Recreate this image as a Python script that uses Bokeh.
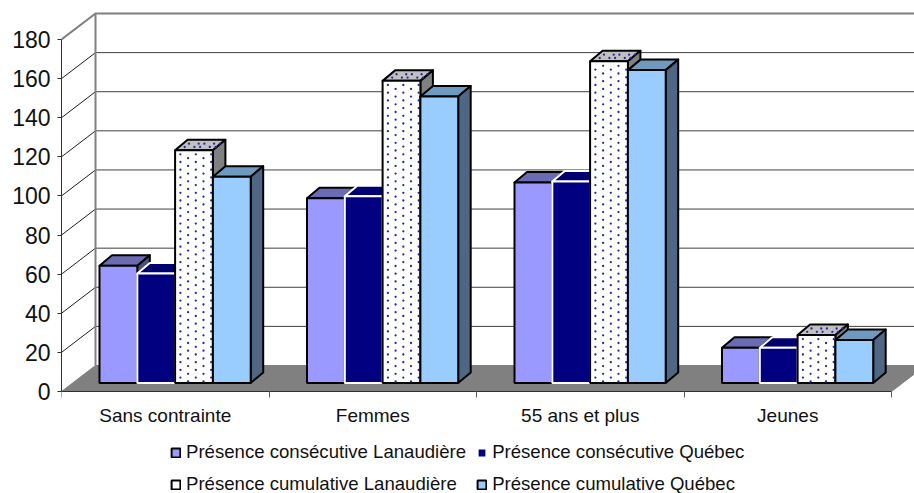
from bokeh.embed import file_html
from bokeh.resources import INLINE
from bokeh.plotting import figure
from bokeh.models import Range1d, FixedTicker, Legend, LegendItem

categories = ["Sans contrainte", "Femmes", "55 ans et plus", "Jeunes"]
y_ticks = [0, 20, 40, 60, 80, 100, 120, 140, 160, 180]
conso_lanaudiere = [60, 94.5, 102.5, 18]
conso_quebec = [56, 95.5, 103, 18]
cumul_lanaudiere = [119, 154.5, 164.5, 24.5]
cumul_quebec = [105.5, 146.5, 160, 22]
series_names = ["Présence consécutive Lanaudière", "Présence consécutive Québec",
                "Présence cumulative Lanaudière", "Présence cumulative Québec"]
series_values = [conso_lanaudiere, conso_quebec, cumul_lanaudiere, cumul_quebec]
front_colors = ["#9999FF", "#000080", "#FFFFFF", "#99CCFF"]
top_colors = ["#6B6BB3", "#000070", "#C0C0C0", "#6F9ABF"]
side_colors = ["#4D4D80", "#000050", "#808080", "#4F6685"]
edge_colors = ["#000000", "#FFFFFF", "#000000", "#000000"]

PX_X = 207.5      # pixels per category
PX_Y = 352 / 180  # pixels per value unit
WALL_DX, WALL_DY = 34 / PX_X, 26 / PX_Y
BAR_DX, BAR_DY = 12.5 / PX_X, 10.5 / PX_Y
BAR_W = 37.8 / PX_X
BASE = 8.5 / PX_Y

p = figure(width=914, height=493, output_backend="svg", toolbar_location=None,
           x_range=Range1d(0, 853 / PX_X), y_range=Range1d(-102 / PX_Y, 391 / PX_Y),
           min_border_left=61, min_border_right=0, min_border_top=0, min_border_bottom=0,
           outline_line_color=None, background_fill_color="white")
p.grid.visible = False

# y axis
ya = p.yaxis[0]
ya.ticker = FixedTicker(ticks=y_ticks, minor_ticks=[])
ya.bounds = (0, 180)
ya.axis_line_color = "#303030"
ya.major_tick_line_color = "#303030"
ya.major_tick_out = 4
ya.major_tick_in = 0
ya.major_label_standoff = 7
ya.major_label_text_font = "Liberation Sans"
ya.major_label_text_font_size = "23px"
ya.major_label_text_color = "#111111"

# x axis
xa = p.xaxis[0]
centers = [i + 0.5 for i in range(len(categories))]
xa.fixed_location = 0
xa.ticker = FixedTicker(ticks=centers, minor_ticks=list(range(len(categories) + 1)))
xa.major_label_overrides = {c: n for c, n in zip(centers, categories)}
xa.bounds = (0, 4)
xa.axis_line_color = "#303030"
xa.major_tick_out = 0
xa.major_tick_in = 0
xa.minor_tick_out = 6
xa.minor_tick_in = 0
xa.minor_tick_line_color = "#606060"
xa.major_label_standoff = 7
xa.major_label_text_font = "Liberation Sans"
xa.major_label_text_font_size = "19px"
xa.major_label_text_color = "#111111"

# walls
inner = [t for t in y_ticks if 0 < t < 180]
p.segment([0] * len(inner), inner, [WALL_DX] * len(inner), [t + WALL_DY for t in inner],
          line_color="#202020", line_width=1)
p.segment([WALL_DX] * len(inner), [t + WALL_DY for t in inner],
          [4 + WALL_DX] * len(inner), [t + WALL_DY for t in inner],
          line_color="#404040", line_width=1)
p.line([0, WALL_DX, 4 + WALL_DX], [180, 180 + WALL_DY, 180 + WALL_DY], line_color="#808080", line_width=2)
p.line([WALL_DX, WALL_DX], [WALL_DY, 180 + WALL_DY], line_color="#808080", line_width=2)
# floor
p.patch([0, WALL_DX, 4 + WALL_DX, 4], [0, WALL_DY, WALL_DY, 0], fill_color="#808080", line_color="#808080")

legend_items = []
for s, (name, vals) in enumerate(zip(series_names, series_values)):
    lefts = [g + (38 + 37.8 * s) / PX_X for g in range(len(vals))]
    rights = [l + BAR_W for l in lefts]
    tops = [BASE + v for v in vals]
    lw = 2
    p.patches([[l, l + BAR_DX, r + BAR_DX, r] for l, r in zip(lefts, rights)],
              [[t, t + BAR_DY, t + BAR_DY, t] for t in tops],
              fill_color=top_colors[s], line_color=edge_colors[s], line_width=lw, line_join="round")
    p.patches([[r, r + BAR_DX, r + BAR_DX, r] for r in rights],
              [[BASE, BASE + BAR_DY, t + BAR_DY, t] for t in tops],
              fill_color=side_colors[s], line_color=edge_colors[s], line_width=lw, line_join="round")
    front = p.quad(left=lefts, right=rights, bottom=[BASE] * len(vals), top=tops,
                   fill_color=front_colors[s], line_color=edge_colors[s], line_width=lw)
    legend_items.append(LegendItem(label=name, renderers=[front]))
    if s == 2:
        dy_step = 7.7 / PX_Y
        xs, ys = [], []
        for l, t in zip(lefts, tops):
            for c in range(5):
                y = BASE + (1.5 if c % 2 else 5.4) / PX_Y
                while y < t - 1.5 / PX_Y:
                    xs.append(l + (5.3 + 7.7 * c) / PX_X)
                    ys.append(y)
                    y += dy_step
            # dots of the top face
            for row in range(2):
                for c in range(5):
                    xs.append(l + (5.3 + 7.7 * c + (row + 1) * 4.3 + (2 if c % 2 else 0)) / PX_X)
                    ys.append(t + (row + 1) * 3.3 / PX_Y)
        p.scatter(xs, ys, size=2.3, marker="circle", fill_color="#2828A0", line_color=None)

legend = Legend(items=legend_items, ncols=2, location=(109, -2), orientation="horizontal",
                background_fill_alpha=0, border_line_color=None,
                label_text_font="Liberation Sans", label_text_font_size="18.6px",
                label_text_color="#111111", glyph_width=11, glyph_height=11,
                label_standoff=5, label_height=18, spacing=10, padding=0, margin=0)
p.add_layout(legend, "center")

open("out.html", "w").write(file_html(p, INLINE))
